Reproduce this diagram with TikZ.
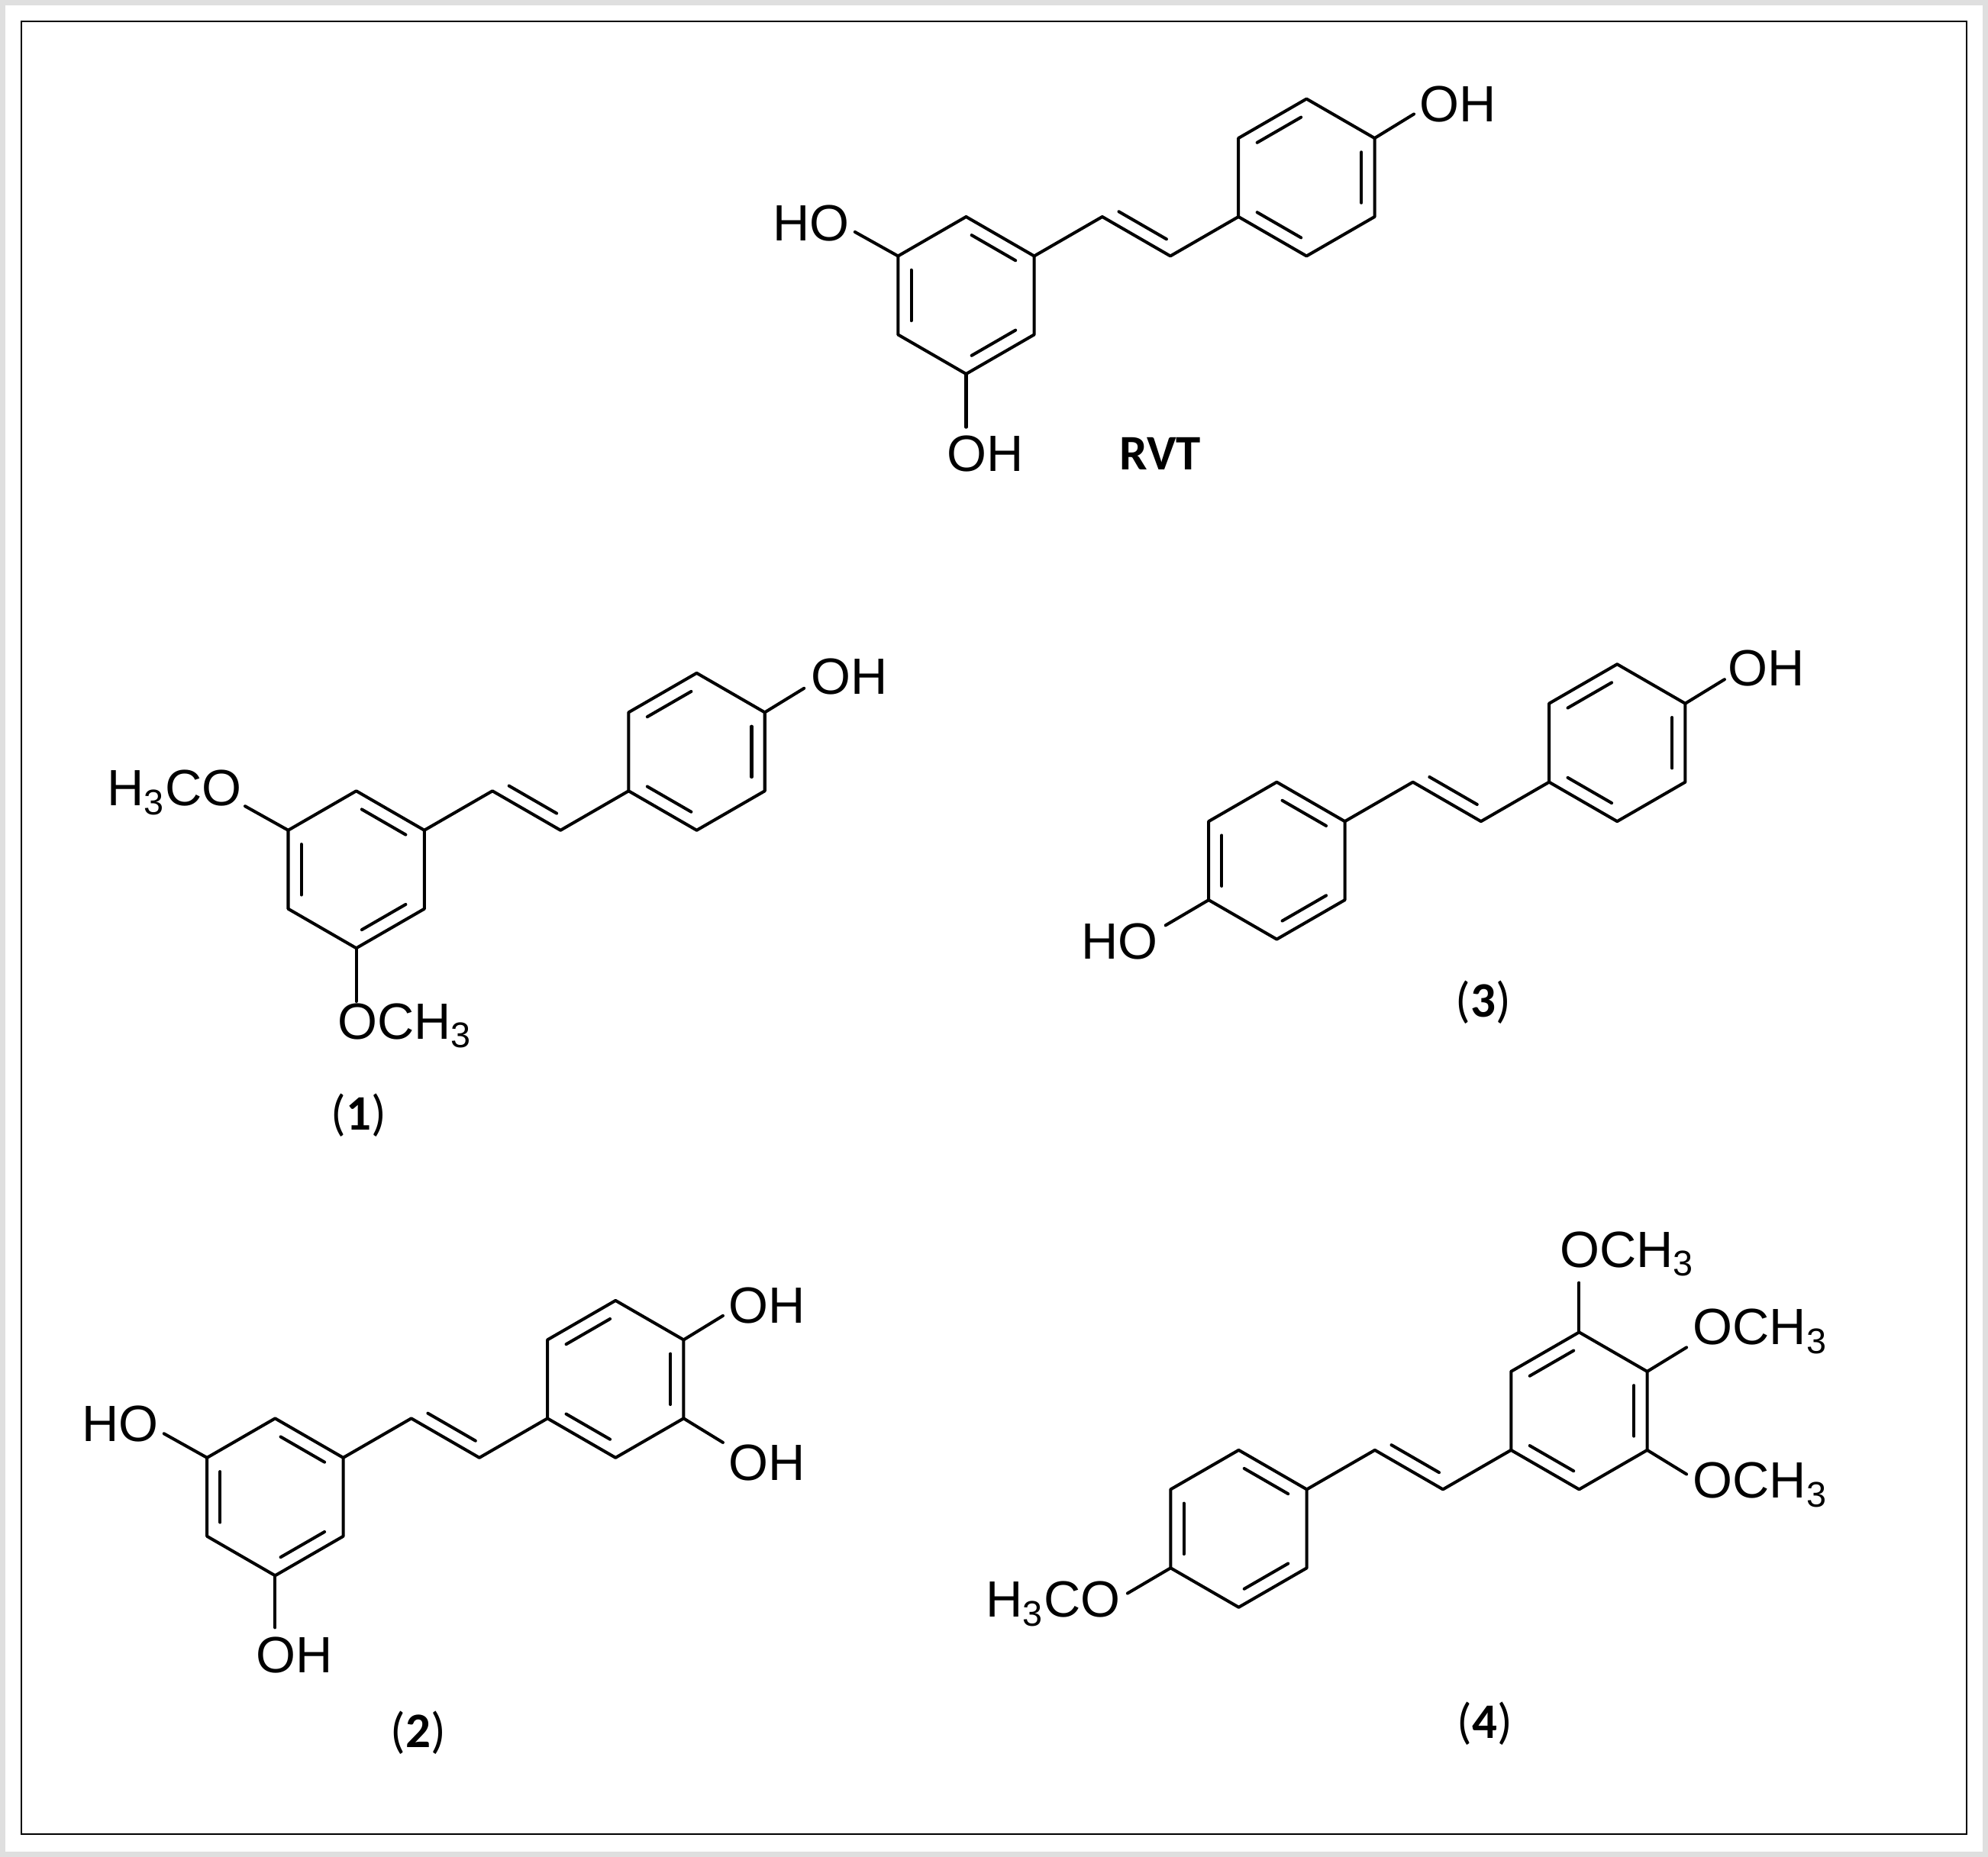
\documentclass[tikz,border=0pt]{standalone}
\usepackage{fontspec}
\setmainfont{Liberation Sans}
\newfontfamily\lblfont{Carlito}
\usetikzlibrary{calc}
\tikzset{
  bond/.style={line width=1.15pt, line cap=round, line join=round},
  atom/.style={font=\fontsize{19}{20}\selectfont, inner sep=0pt},
  cpd/.style={font=\lblfont\fontsize{18.5}{20}\selectfont, inner sep=0pt}
}
\def\L{62}
\def\K{50}
% ring: #1 name, #2 center, #3 inner edge pairs
\newcommand\benz[3]{%
  \coordinate (#1) at (#2);
  \foreach \a in {90,150,210,270,330,30}{
    \coordinate (#1v\a) at ($(#1)+(\a:\L)$);
    \coordinate (#1i\a) at ($(#1)+(\a:\K)$);
  }
  \draw[bond] (#1v270) -- (#1v330) -- (#1v30) -- (#1v90) -- (#1v150) -- (#1v210) -- cycle;
  \foreach \a/\b in {#3}{
    \draw[bond] ($(#1i\a)!0.1!(#1i\b)$) -- ($(#1i\b)!0.1!(#1i\a)$);
  }
}
% stilbene: #1 prefix, #2 ring A centre
\newcommand\stilb[2]{%
  \benz{#1A}{#2}{270/330,210/150,90/30}
  \benz{#1B}{$(#2)+(268.5,-93)$}{210/270,330/30,150/90}
  \coordinate (#1v1) at ($(#1Av330)+(53.7,-31)$);
  \coordinate (#1v2) at ($(#1v1)+(53.7,31)$);
  \draw[bond] (#1Av330) -- (#1v1) -- (#1v2) -- (#1Bv150);
  \draw[bond] ($(#1v1)!0.15!(#1v2)+(5,-8.7)$) -- ($(#1v2)!0.15!(#1v1)+(5,-8.7)$);
}
\begin{document}
\begin{tikzpicture}[x=0.016607cm, y=-0.016607cm]
\useasboundingbox (0,0) rectangle (1568,1465);
\fill[white] (0,0) rectangle (1568,1465);
\draw[gray!25, line width=4pt] (0,0) rectangle (1568,1465);
\draw[black, line width=0.6pt] (17,17) rectangle (1551,1447);

% ---------- RVT
\stilb{r}{762,233}
\coordinate (r1) at ($(rAv210)+(-34,-19)$);
\coordinate (r2) at ($(rAv90)+(0,42)$);
\coordinate (r3) at ($(rBv330)+(31,-19)$);
\draw[bond] (rAv210) -- (r1);
\draw[bond] (rAv90) -- (r2);
\draw[bond] (rBv330) -- (r3);
\node[atom] (rHO) at (640,176) {HO};
\node[atom] (rOHb) at (777,358) {OH};
\node[atom] (rOHt) at (1150,82) {OH};
\node[cpd] (rlab) at (915,358) {\bfseries RVT};

% ---------- (1)
\stilb{a}{281,686}
\coordinate (a1) at ($(aAv210)+(-34,-19)$);
\coordinate (a2) at ($(aAv90)+(0,42)$);
\coordinate (a3) at ($(aBv330)+(31,-19)$);
\draw[bond] (aAv210) -- (a1);
\draw[bond] (aAv90) -- (a2);
\draw[bond] (aBv330) -- (a3);
\node[atom, anchor=mid east] (aH3CO) at (191,630) {H\textsubscript{3}CO};
\node[atom, anchor=mid west] (aOCH3) at (266,814) {OCH\textsubscript{3}};
\node[atom] (aOH) at (670,534) {OH};
\node[cpd] (alab) at (283,880) {(\textbf{1})};

% ---------- (3)
\benz{cA}{1007,679}{270/330,210/150,90/30}
\benz{cB}{1275.5,586}{210/270,330/30,150/90}
\coordinate (cv1) at ($(cAv330)+(53.7,-31)$);
\coordinate (cv2) at ($(cv1)+(53.7,31)$);
\draw[bond] (cAv330) -- (cv1) -- (cv2) -- (cBv150);
\draw[bond] ($(cv1)!0.15!(cv2)+(5,-8.7)$) -- ($(cv2)!0.15!(cv1)+(5,-8.7)$);
\coordinate (c1) at ($(cAv150)+(-34,20)$);
\coordinate (c3) at ($(cBv330)+(31,-19)$);
\draw[bond] (cAv150) -- (c1);
\draw[bond] (cBv330) -- (c3);
\node[atom] (cHO) at (883,743) {HO};
\node[atom] (cOH) at (1393,527) {OH};
\node[cpd] (clab) at (1170,791) {(\textbf{3})};

% ---------- (2)
\stilb{b}{217,1181}
\coordinate (b1) at ($(bAv210)+(-34,-19)$);
\coordinate (b2) at ($(bAv90)+(0,41)$);
\coordinate (b3) at ($(bBv330)+(31,-19)$);
\coordinate (b4) at ($(bBv30)+(31,19)$);
\draw[bond] (bAv210) -- (b1);
\draw[bond] (bAv90) -- (b2);
\draw[bond] (bBv330) -- (b3);
\draw[bond] (bBv30) -- (b4);
\node[atom] (bHO) at (95,1123) {HO};
\node[atom] (bOHb) at (232,1306) {OH};
\node[atom] (bOH1) at (605,1030) {OH};
\node[atom] (bOH2) at (605,1154) {OH};
\node[cpd] (blab) at (330,1367) {(\textbf{2})};

% ---------- (4)
\stilb{d}{977,1206}
\coordinate (d1) at ($(dAv150)+(-34,20)$);
\coordinate (d2) at ($(dBv270)+(0,-39)$);
\coordinate (d3) at ($(dBv330)+(31,-19)$);
\coordinate (d4) at ($(dBv30)+(31,19)$);
\draw[bond] (dAv150) -- (d1);
\draw[bond] (dBv270) -- (d2);
\draw[bond] (dBv330) -- (d3);
\draw[bond] (dBv30) -- (d4);
\node[atom, anchor=mid east] (dH3CO) at (884,1270) {H\textsubscript{3}CO};
\node[atom, anchor=mid west] (dOCH3a) at (1230,994) {OCH\textsubscript{3}};
\node[atom, anchor=mid west] (dOCH3b) at (1335,1055) {OCH\textsubscript{3}};
\node[atom, anchor=mid west] (dOCH3c) at (1335,1176) {OCH\textsubscript{3}};
\node[cpd] (dlab) at (1171,1360) {(\textbf{4})};
\end{tikzpicture}
\end{document}
